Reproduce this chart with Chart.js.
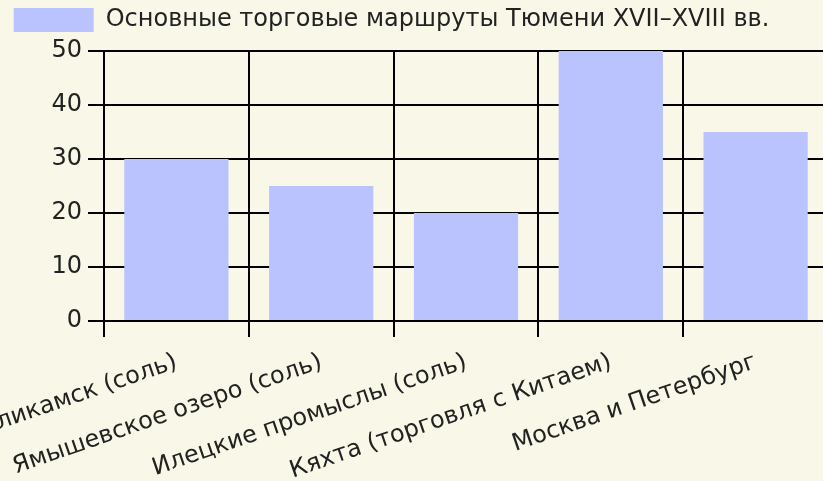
<!DOCTYPE html>
<html>
<head>
<meta charset="utf-8">
<script src="https://cdn.jsdelivr.net/npm/chart.js@4"></script>
<style>
  html, body { margin: 0; padding: 0; background: #f9f8e8; overflow: hidden; width: 823px; height: 481px; }
  #wrap { position: absolute; left: -45px; top: 0; width: 873px; height: 481px; }
</style>
</head>
<body>
<div id="wrap"><canvas id="c"></canvas></div>
<script>
const categories = [
  "Соликамск (соль)",
  "Ямышевское озеро (соль)",
  "Илецкие промыслы (соль)",
  "Кяхта (торговля с Китаем)",
  "Москва и Петербург"
];
const seriesLabel = "Основные торговые маршруты Тюмени XVII–XVIII вв.";
const seriesValues = [30, 25, 20, 50, 35];
const yTicks = [0, 10, 20, 30, 40, 50];

const FONT = "'DejaVu Sans', sans-serif";

const legendSpacer = {
  id: 'legendSpacer',
  beforeLayout(chart) {
    const lg = chart.legend;
    if (lg && !lg._spaced) {
      const orig = lg.fit;
      lg.fit = function () { orig.call(this); this.height += 9; };
      lg._spaced = true;
    }
  }
};

new Chart(document.getElementById('c'), {
  type: 'bar',
  data: {
    labels: categories,
    datasets: [{
      label: seriesLabel,
      data: seriesValues,
      backgroundColor: '#bbc3ff',
      borderWidth: 0
    }]
  },
  plugins: [legendSpacer],
  options: {
    responsive: true,
    maintainAspectRatio: false,
    animation: false,
    devicePixelRatio: 1,
    plugins: {
      legend: {
        labels: {
          font: { family: FONT, size: 24 },
          color: '#222',
          boxWidth: 80,
          boxHeight: 24,
          padding: 8
        }
      },
      tooltip: { enabled: false }
    },
    scales: {
      x: {
        grid: { color: '#000', lineWidth: 2, tickLength: 16, offset: true },
        border: { color: '#000', width: 2 },
        ticks: { font: { family: FONT, size: 24 }, color: '#222', padding: 11, minRotation: 19, maxRotation: 19 },
        afterFit(scale) {
          scale.height = 160;
          scale.paddingLeft = 0;
          scale.paddingRight = 0;
        }
      },
      y: {
        min: yTicks[0],
        max: yTicks[yTicks.length - 1],
        grid: { color: '#000', lineWidth: 2, tickLength: 16 },
        border: { color: '#000', width: 2 },
        ticks: { stepSize: 10, font: { family: FONT, size: 24 }, color: '#222', padding: 6 },
        afterFit(scale) {
          scale.width = 149;
        }
      }
    }
  }
});
</script>
</body>
</html>
